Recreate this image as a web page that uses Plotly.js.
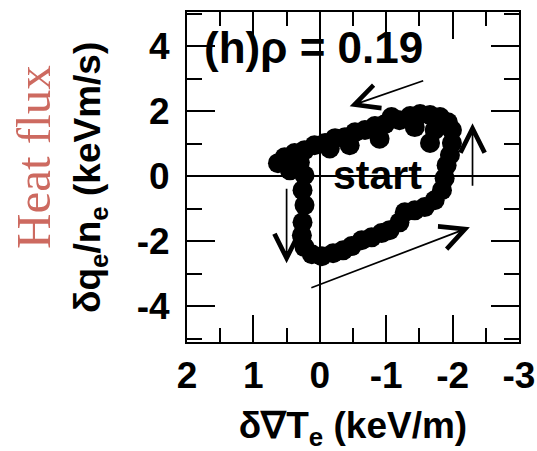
<!DOCTYPE html>
<html>
<head>
<meta charset="utf-8">
<script src="https://cdn.plot.ly/plotly-3.0.1.min.js"></script>
<style>html,body{margin:0;padding:0;background:#fff;}#chart{width:537px;height:451px;}</style>
</head>
<body>
<div id="chart"></div>
<script>
// Loop of heat-flux vs temperature-gradient perturbations
const gradT = [
  -1.99, -1.93, -1.81, -1.66, -1.51, -1.36, -1.20, -1.08, -0.98, -0.83, -0.68, -0.53, -0.38, -0.23, -0.08, 0.08, 0.23, 0.38, 0.53, 0.63, 0.45, 0.30,
  -0.15, -0.45, -0.90, -1.43, -1.73, -1.66, 0.45,
  0.23, 0.26, 0.23, 0.26, 0.27, 0.23, 0.12,
  -0.03, -0.20, -0.35, -0.48, -0.63, -0.78, -0.93, -1.05, -1.20, -1.28, -1.43, -1.58, -1.73,
  -1.84, -1.88, -1.91, -1.96, -1.99
];
const heatFlux = [
  1.42, 1.66, 1.82, 1.88, 1.91, 1.85, 1.72, 1.82, 1.60, 1.54, 1.42, 1.35, 1.20, 1.17, 1.02, 0.95, 0.80, 0.71, 0.58, 0.40, 0.34, 0.43,
  0.85, 0.95, 1.15, 1.51, 1.42, 1.02, 0.18,
  0.03, -0.43, -0.89, -1.42, -1.82, -2.18, -2.40,
  -2.46, -2.37, -2.28, -2.15, -1.97, -1.88, -1.75, -1.66, -1.42, -1.11, -1.05, -0.95, -0.74,
  -0.43, -0.06, 0.34, 0.65, 1.02
];
// Direction arrows: [tailX, tailY] and [headX, headY]
const arrowTail = [[-1.58, 2.95], [-2.30, -0.34], [0.50, -0.34], [0.15, -3.45]];
const arrowHead = [[-0.45, 2.15], [-2.30, 1.63], [0.50, -2.68], [-2.26, -1.57]];
const xTicks = [2, 1, 0, -1, -2, -3];
const yTicks = [-4, -2, 0, 2, 4];
const panelLabel = '(h)ρ = 0.19';
const startLabel = 'start';
const sideLabel = 'Heat flux';
const xTitle = 'δ∇T<sub>e</sub> (keV/m)';
const yTitle = 'δq<sub>e</sub>/n<sub>e</sub> (keVm/s)';

const sans = 'Liberation Sans, Arial, Helvetica, sans-serif';
const L = 187, R = 18, T = 12, B = 109, W = 537, H = 451;
const px = v => (v - L) / (W - L - R);
const py = v => (H - B - v) / (H - T - B);

const annotations = arrowTail.map((t, i) => ({
  x: arrowHead[i][0], y: arrowHead[i][1], ax: t[0], ay: t[1],
  xref: 'x', yref: 'y', axref: 'x', ayref: 'y',
  showarrow: true, arrowhead: 5, arrowsize: 2.8, arrowwidth: 1.7,
  arrowcolor: '#000', standoff: 0, text: ''
}));
annotations.push({
  x: 1.78, y: 3.95, xref: 'x', yref: 'y', xanchor: 'left', yanchor: 'middle',
  text: panelLabel, showarrow: false,
  font: {family: sans, size: 44, color: '#000', weight: 'bold'}
});
annotations.push({
  x: -0.87, y: 0.05, xref: 'x', yref: 'y', xanchor: 'center', yanchor: 'middle',
  text: startLabel, showarrow: false,
  font: {family: sans, size: 41, color: '#000', weight: 'bold'}
});
annotations.push({
  x: px(33), y: py(157), xref: 'paper', yref: 'paper', xanchor: 'center', yanchor: 'middle',
  showarrow: false, text: sideLabel, textangle: -90,
  font: {family: 'Liberation Serif, Times New Roman, serif', size: 49, color: '#cd6a60'}
});
annotations.push({
  x: px(90), y: py(177), xref: 'paper', yref: 'paper', xanchor: 'center', yanchor: 'middle',
  showarrow: false, text: yTitle, textangle: -90,
  font: {family: sans, size: 37, color: '#000', weight: 'bold'}
});

const trace = {
  x: gradT, y: heatFlux, type: 'scatter', mode: 'markers',
  marker: {color: '#000', size: 20, line: {width: 0}},
  hoverinfo: 'skip', cliponaxis: false
};

const axisCommon = {
  showgrid: false, showline: true, linecolor: '#000', linewidth: 2, mirror: 'ticks',
  ticks: 'inside', tickwidth: 2, tickcolor: '#000',
  zeroline: true, zerolinecolor: '#000', zerolinewidth: 2,
  tickfont: {family: sans, size: 37, color: '#000', weight: 'bold'}
};

const layout = {
  width: W, height: H,
  margin: {l: L, r: R, t: T, b: B, pad: 0},
  paper_bgcolor: '#fff', plot_bgcolor: '#fff',
  showlegend: false,
  xaxis: Object.assign({}, axisCommon, {
    range: [2, -3], tickvals: xTicks, ticktext: xTicks.map(String),
    ticklen: 27, ticklabelstandoff: 0,
    minor: {dtick: 0.5, ticks: 'inside', ticklen: 14, tickwidth: 2, tickcolor: '#000', showgrid: false},
    title: {text: xTitle, font: {family: sans, size: 37, color: '#000', weight: 'bold'}}
  }),
  yaxis: Object.assign({}, axisCommon, {
    range: [-5.1, 5.05], tickvals: yTicks, ticktext: yTicks.map(String),
    ticklen: 28, ticklabelstandoff: 8,
    minor: {dtick: 1, ticks: 'inside', ticklen: 15, tickwidth: 2, tickcolor: '#000', showgrid: false}
  }),
  annotations: annotations
};

Plotly.newPlot('chart', [trace], layout, {displayModeBar: false, staticPlot: true});
</script>
</body>
</html>
